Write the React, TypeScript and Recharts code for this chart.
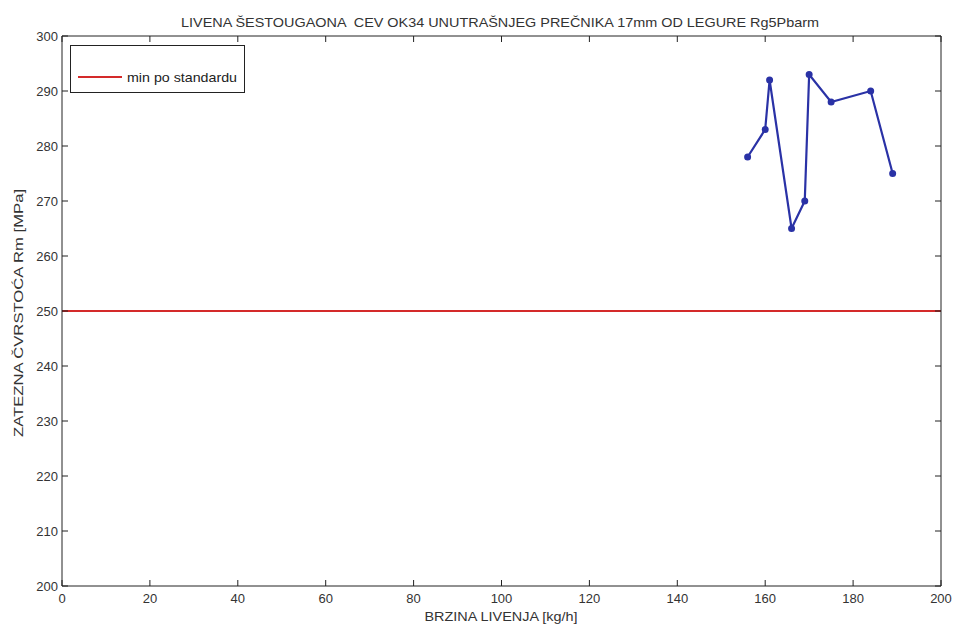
import React from "react";
import {
  LineChart,
  Line,
  XAxis,
  YAxis,
  Customized,
} from "recharts";

const TITLE =
  "LIVENA ŠESTOUGAONA  CEV OK34 UNUTRAŠNJEG PREČNIKA 17mm OD LEGURE Rg5Pbarm";
const X_LABEL = "BRZINA LIVENJA [kg/h]";
const Y_LABEL = "ZATEZNA ČVRSTOĆA Rm [MPa]";
const LEGEND_LABEL = "min po standardu";

// brzina livenja [kg/h]
const speeds = [156, 160, 161, 166, 169, 170, 175, 184, 189];
// zatezna cvrstoca [MPa]
const strengths = [278, 283, 292, 265, 270, 293, 288, 290, 275];

const minStandard = 250;
const minLineX = [0, 200];

const xTicks = [0, 20, 40, 60, 80, 100, 120, 140, 160, 180, 200];
const yTicks = [200, 210, 220, 230, 240, 250, 260, 270, 280, 290, 300];

const measured = speeds.map((s, i) => ({ x: s, y: strengths[i] }));
const minLine = minLineX.map((x) => ({ x, y: minStandard }));

const FONT = "'Liberation Sans', Arial, sans-serif";
const AXIS = "#222";
const TEXT = "#333";
const RED = "#d42a2a";
const BLUE = "#2a32a6";
const TICK = 6;

function BottomTick({ x, y, payload }: any) {
  return (
    <g>
      <line x1={x} y1={y} x2={x} y2={y - TICK} stroke={AXIS} />
      <text x={x} y={y + 17} textAnchor="middle" fontSize={13} fill={TEXT} fontFamily={FONT}>
        {payload.value}
      </text>
    </g>
  );
}

function LeftTick({ x, y, payload }: any) {
  return (
    <g>
      <line x1={x} y1={y} x2={x + TICK} y2={y} stroke={AXIS} />
      <text x={x - 4} y={y + 5} textAnchor="end" fontSize={13} fill={TEXT} fontFamily={FONT}>
        {payload.value}
      </text>
    </g>
  );
}

function TopTick({ x, y }: any) {
  return <line x1={x} y1={y} x2={x} y2={y + TICK} stroke={AXIS} />;
}

function RightTick({ x, y }: any) {
  return <line x1={x} y1={y} x2={x - TICK} y2={y} stroke={AXIS} />;
}

function Texts() {
  return (
    <g fontFamily={FONT} fill={TEXT}>
      <text
        x={500}
        y={27}
        textAnchor="middle"
        fontSize={13}
        textLength={638}
        lengthAdjust="spacingAndGlyphs"
        style={{ whiteSpace: "pre" }}
      >
        {TITLE}
      </text>
      <text
        x={501}
        y={621}
        textAnchor="middle"
        fontSize={13}
        textLength={153}
        lengthAdjust="spacingAndGlyphs"
      >
        {X_LABEL}
      </text>
      <text
        x={0}
        y={0}
        textAnchor="middle"
        fontSize={13}
        textLength={248}
        lengthAdjust="spacingAndGlyphs"
        transform="translate(23 313) rotate(-90)"
      >
        {Y_LABEL}
      </text>
      {/* legenda */}
      <rect x={70.5} y={45.5} width={174} height={47} fill="#fff" stroke={AXIS} />
      <line x1={78} y1={77} x2={122} y2={77} stroke={RED} strokeWidth={2} />
      <text
        x={127}
        y={82}
        fontSize={13}
        fill="#222"
        textLength={110}
        lengthAdjust="spacingAndGlyphs"
      >
        {LEGEND_LABEL}
      </text>
    </g>
  );
}

export default function App() {
  return (
    <div style={{ position: "absolute", left: 0, top: 0, background: "#fff" }}>
      <LineChart
        width={954}
        height={624}
        margin={{ top: 0, right: 0, bottom: 0, left: 0 }}
        style={{ background: "#fff" }}
      >
        <XAxis
          xAxisId="bottom"
          dataKey="x"
          type="number"
          domain={[0, 200]}
          ticks={xTicks}
          height={38}
          tickSize={0}
          tickMargin={0}
          tick={<BottomTick />}
          tickLine={false}
          axisLine={{ stroke: AXIS }}
          allowDataOverflow
        />
        <XAxis
          xAxisId="top"
          orientation="top"
          dataKey="x"
          type="number"
          domain={[0, 200]}
          ticks={xTicks}
          height={36}
          tickSize={0}
          tickMargin={0}
          tick={<TopTick />}
          tickLine={false}
          axisLine={{ stroke: AXIS }}
          allowDataOverflow
        />
        <YAxis
          yAxisId="left"
          type="number"
          domain={[200, 300]}
          ticks={yTicks}
          width={62}
          tickSize={0}
          tickMargin={0}
          tick={<LeftTick />}
          tickLine={false}
          axisLine={{ stroke: AXIS }}
          allowDataOverflow
        />
        <YAxis
          yAxisId="right"
          orientation="right"
          type="number"
          domain={[200, 300]}
          ticks={yTicks}
          width={13}
          tickSize={0}
          tickMargin={0}
          tick={<RightTick />}
          tickLine={false}
          axisLine={{ stroke: AXIS }}
          allowDataOverflow
        />
        <Line
          xAxisId="bottom"
          yAxisId="left"
          data={minLine}
          dataKey="y"
          stroke={RED}
          strokeWidth={2}
          dot={false}
          isAnimationActive={false}
        />
        <Line
          xAxisId="bottom"
          yAxisId="left"
          data={measured}
          dataKey="y"
          stroke={BLUE}
          strokeWidth={2.2}
          dot={{ r: 2.4, fill: BLUE, stroke: BLUE }}
          isAnimationActive={false}
        />
        <Customized component={Texts} />
      </LineChart>
    </div>
  );
}
